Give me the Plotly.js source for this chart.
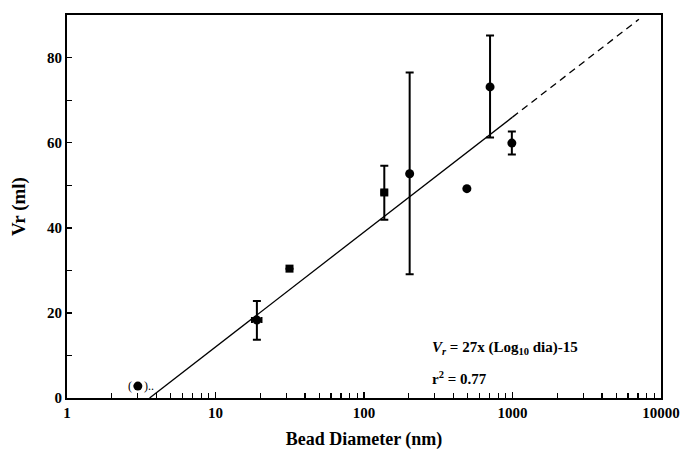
<!DOCTYPE html>
<html><head><meta charset="utf-8">
<script src="https://cdn.plot.ly/plotly-3.0.1.min.js"></script>
<style>html,body{margin:0;padding:0;background:#fff}#chart{width:684px;height:459px}</style>
</head><body><div id="chart"></div>
<script>
// Circle-marker points
const circX = [3.0, 19, 203, 493, 706, 990];
const circY = [2.8, 18.3, 52.7, 49.2, 73.1, 59.9];
const circErrPlus = [0, 4.5, 23.8, 0, 12.1, 2.7];
const circErrMinus = [0, 4.6, 23.6, 0, 11.9, 2.7];
const circXErr = [0, 1.4, 0, 0, 0, 0];
// Square-marker points
const sqX = [31.5, 137];
const sqY = [30.4, 48.3];
const sqErrPlus = [0, 6.3];
const sqErrMinus = [0, 6.4];
const sqXErr = [0, 6];
// Regression line Vr = 27 log10(dia) - 15
const fitSolidX = [3.6, 1000];
const fitSolidY = [0, 66];
const fitDashX = [1000, 7100];
const fitDashY = [66, 89];
// Axis ticks
const xTickVals = [1, 10, 100, 1000, 10000];
const xTickText = ['1', '10', '100', '1000', '10000'];
const xMinor = [2,3,4,5,6,7,8,9,20,30,40,50,60,70,80,90,200,300,400,500,600,700,800,900,2000,3000,4000,5000,6000,7000,8000,9000];
const yTickVals = [0, 20, 40, 60, 80];
const yMinor = [10, 30, 50, 70];

const serif = 'Liberation Serif, Times New Roman, serif';
const traces = [
  {x: fitSolidX, y: fitSolidY, mode: 'lines', line: {color: '#000', width: 1.3}, showlegend: false, hoverinfo: 'skip'},
  {x: fitDashX, y: fitDashY, mode: 'lines', line: {color: '#000', width: 1.3, dash: '7px,5px'}, showlegend: false, hoverinfo: 'skip'},
  {x: circX, y: circY, mode: 'markers', marker: {symbol: 'circle', size: 9, color: '#000'},
   error_y: {type: 'data', array: circErrPlus, arrayminus: circErrMinus, color: '#000', thickness: 2, width: 4},
   error_x: {type: 'data', array: circXErr, color: '#000', thickness: 2, width: 3},
   showlegend: false},
  {x: sqX, y: sqY, mode: 'markers', marker: {symbol: 'square', size: 8, color: '#000'},
   error_y: {type: 'data', array: sqErrPlus, arrayminus: sqErrMinus, color: '#000', thickness: 2, width: 4},
   error_x: {type: 'data', array: sqXErr, color: '#000', thickness: 2, width: 3},
   showlegend: false},
  {x: [4.2], y: [-1.3], mode: 'markers', marker: {symbol: 'triangle-down', size: 6, color: '#000'}, cliponaxis: false, showlegend: false}
];

const layout = {
  width: 684, height: 459,
  margin: {l: 67, r: 23, t: 15, b: 61},
  paper_bgcolor: '#fff', plot_bgcolor: '#fff',
  font: {family: serif, color: '#000', size: 14},
  xaxis: {
    type: 'log', range: [0, 4],
    tickvals: xTickVals, ticktext: xTickText,
    ticks: 'inside', ticklen: 6, tickwidth: 1.5, tickcolor: '#000',
    minor: {tickvals: xMinor, ticks: 'inside', ticklen: 5, tickwidth: 1.2, tickcolor: '#000', showgrid: false},
    showgrid: false, zeroline: false,
    showline: true, linecolor: '#000', linewidth: 2, mirror: true,
    tickfont: {family: serif, size: 15, color: '#000', weight: 'bold'},
    title: {text: '<b>Bead Diameter (nm)</b>', font: {family: serif, size: 18, color: '#000'}, standoff: 12}
  },
  yaxis: {
    range: [0, 90],
    tickvals: yTickVals,
    ticks: 'inside', ticklen: 5, tickwidth: 1.5, tickcolor: '#000',
    minor: {tickvals: yMinor, ticks: 'inside', ticklen: 5, tickwidth: 1.2, tickcolor: '#000', showgrid: false},
    showgrid: false, zeroline: false,
    showline: true, linecolor: '#000', linewidth: 2, mirror: true,
    tickfont: {family: serif, size: 15, color: '#000', weight: 'bold'},
    title: {text: '<b>Vr (ml)</b>', font: {family: serif, size: 19, color: '#000'}, standoff: 16}
  },
  annotations: [
    {xref: 'paper', yref: 'paper', x: 0.611, y: 0.13, xanchor: 'left', yanchor: 'middle', showarrow: false,
     text: '<b><i>V</i><sub><i>r</i></sub> = 27x (Log<sub>10</sub> dia)-15</b>', font: {family: serif, size: 15, color: '#000'}},
    {xref: 'paper', yref: 'paper', x: 0.611, y: 0.052, xanchor: 'left', yanchor: 'middle', showarrow: false,
     text: '<b>r<sup>2</sup> = 0.77</b>', font: {family: serif, size: 15, color: '#000'}},
    {xref: 'x', yref: 'y', x: Math.log10(circX[0]), y: circY[0], xshift: -8, showarrow: false,
     text: '(', font: {family: serif, size: 12, color: '#000'}},
    {xref: 'x', yref: 'y', x: Math.log10(circX[0]), y: circY[0], xshift: 11, showarrow: false,
     text: ')..', font: {family: serif, size: 12, color: '#000'}}
  ]
};
Plotly.newPlot('chart', traces, layout, {displayModeBar: false, staticPlot: true});
</script></body></html>
